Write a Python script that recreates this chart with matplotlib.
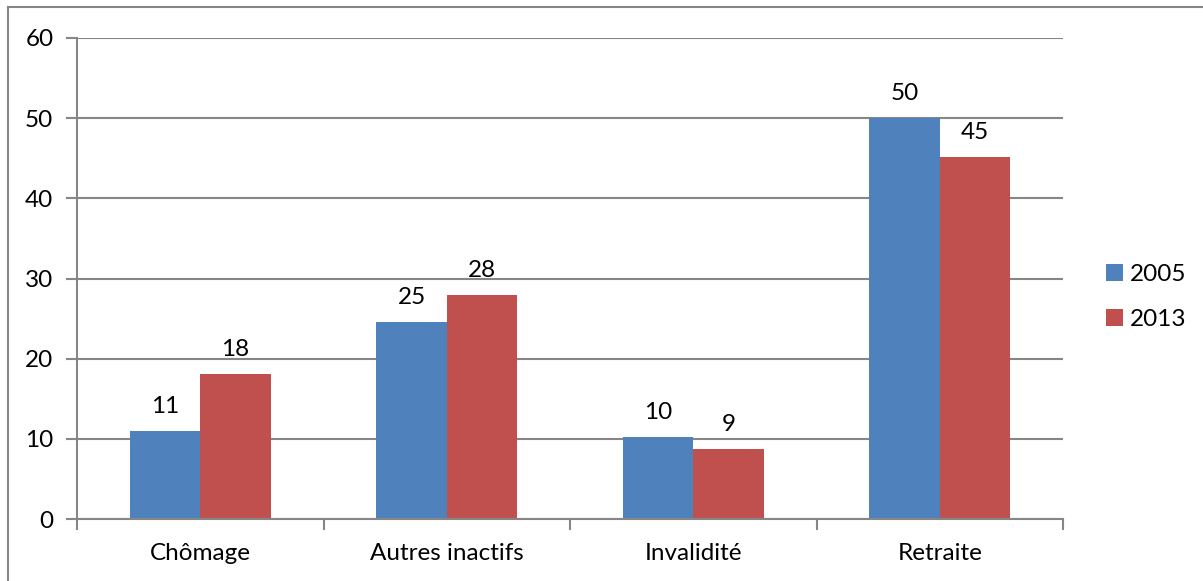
import matplotlib.pyplot as plt
from matplotlib.lines import Line2D
import numpy as np

categories = ['Chômage', 'Autres inactifs', 'Invalidité', 'Retraite']
years = ['2005', '2013']
values_2005 = [11.0, 24.6, 10.2, 50.0]
values_2013 = [18.1, 28.0, 8.7, 45.2]

blue = '#4F81BD'
red = '#C0504D'
grey = '#868686'
fs = 17.5

plt.rcParams['font.family'] = ['Lato', 'DejaVu Sans']

fig = plt.figure(figsize=(12.03, 5.81), dpi=100)
ax = fig.add_axes([77 / 1203, 1 - 519 / 581, (1063 - 77) / 1203, (519 - 38) / 581])

x = np.arange(len(categories))
w = 0.285
b1 = ax.bar(x - w / 2, values_2005, w, color=blue, label=years[0], zorder=3)
b2 = ax.bar(x + w / 2, values_2013, w, color=red, label=years[1], zorder=3)

for bars, vals in [(b1, values_2005), (b2, values_2013)]:
    for rect, v in zip(bars, vals):
        ax.annotate(f'{v:.0f}', (rect.get_x() + rect.get_width() / 2, v),
                    xytext=(0, 10), textcoords='offset points',
                    ha='center', va='bottom', fontsize=fs)

ax.set_xlim(-0.5, 3.5)
ax.set_ylim(0, 60)
ax.set_yticks(range(0, 61, 10))
ax.set_xticks(x)
ax.set_xticklabels(categories)
ax.set_xticks(np.arange(-0.5, 4, 1), minor=True)
ax.tick_params(axis='x', which='major', length=0, pad=17, labelsize=fs)
ax.tick_params(axis='x', which='minor', length=8, width=1.5, color=grey, direction='out')
ax.tick_params(axis='y', length=8, width=1.5, color=grey, pad=9, labelsize=fs)
ax.yaxis.grid(True, color=grey, linewidth=1.5, zorder=0)

for s in ['top', 'right']:
    ax.spines[s].set_visible(False)
for s in ['left', 'bottom']:
    ax.spines[s].set_color(grey)
    ax.spines[s].set_linewidth(1.5)
    ax.spines[s].set_zorder(4)

ax.legend(loc='center left', bbox_to_anchor=(1084 / 1203, 1 - 297 / 581),
          bbox_transform=fig.transFigure, frameon=False, fontsize=fs,
          handlelength=0.7, handleheight=0.7, handletextpad=0.3, labelspacing=1.0)

# outer chart border (top and left only visible in the crop)
fig.add_artist(Line2D([8 / 1203, 8 / 1203], [0, 1 - 7 / 581], transform=fig.transFigure,
                      color=grey, linewidth=1.5))
fig.add_artist(Line2D([8 / 1203, 1], [1 - 7 / 581, 1 - 7 / 581], transform=fig.transFigure,
                      color=grey, linewidth=1.5))

fig.savefig('out.png', dpi=100)
